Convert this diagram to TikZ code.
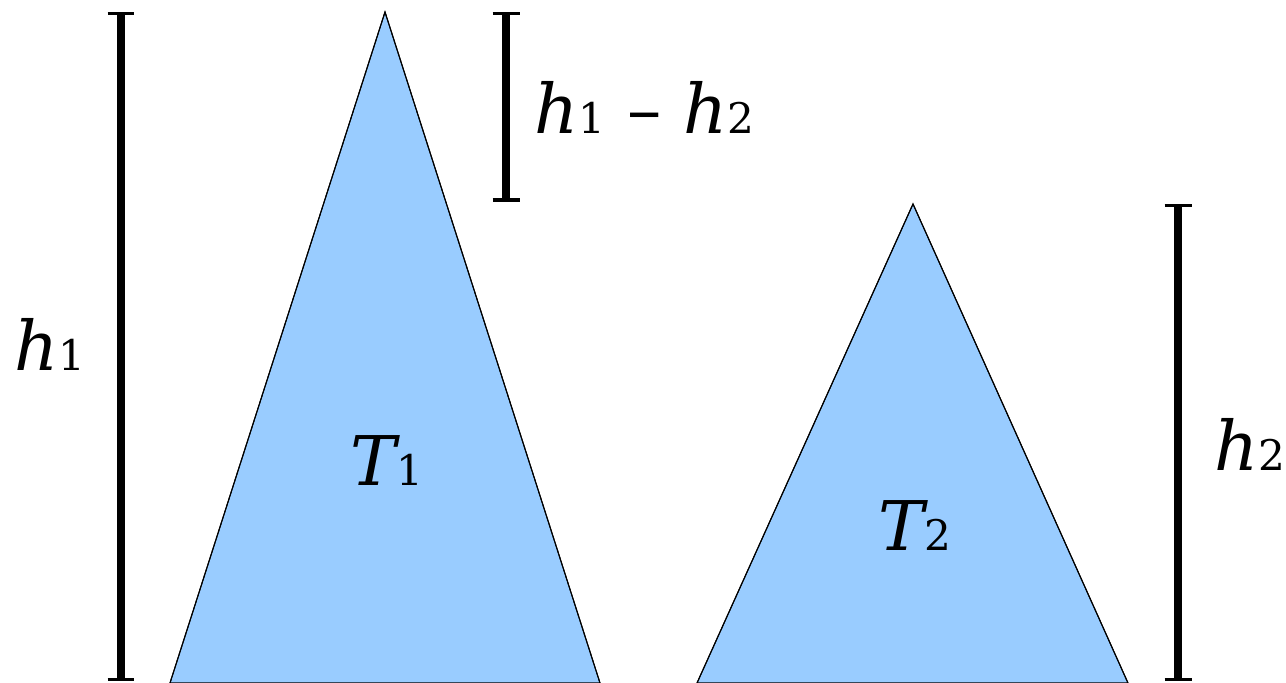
\documentclass[tikz,border=0pt]{standalone}
\usepackage{fontspec}
\newfontfamily\lblfont{DejaVu Serif}
\definecolor{treeblue}{HTML}{99CCFF}
\newcommand{\hlbl}[1]{{\itshape h}{\fontsize{24}{24}\selectfont #1}}
\newcommand{\tlbl}[1]{{\itshape T}{\fontsize{24}{24}\selectfont #1}}
\tikzset{
  tree/.style={fill=treeblue, draw=black, line width=0.6pt, line join=miter},
  dimbar/.style={line width=0.16cm},
  dimcap/.style={line width=0.07cm},
  lbl/.style={font=\lblfont\fontsize{39}{39}\selectfont, anchor=base west, inner sep=0pt}
}
\begin{document}
\begin{tikzpicture}[x=0.02cm, y=-0.02cm]
  \useasboundingbox (0,0) rectangle (1286,683);
  % eckpunkte der baeume
  \coordinate (t1top) at (385,12);
  \coordinate (t1left) at (170,683);
  \coordinate (t1right) at (600,683);
  \coordinate (t2top) at (913,204);
  \coordinate (t2left) at (697,683);
  \coordinate (t2right) at (1128,683);
  \fill[tree] (t1top) -- (t1right) -- (t1left) -- cycle;
  \fill[tree] (t2top) -- (t2right) -- (t2left) -- cycle;
  \draw[tree, fill=none] (t1left) -- (t1top) -- (t1right);
  \draw[tree, fill=none] (t2left) -- (t2top) -- (t2right);
  % hoehenmarken
  \coordinate (aTop) at (121,13.5);
  \coordinate (aBot) at (121,679.5);
  \coordinate (bTop) at (506,13.5);
  \coordinate (bBot) at (506,200);
  \coordinate (cTop) at (1178,205.5);
  \coordinate (cBot) at (1178,679.5);
  \foreach \p/\q in {aTop/aBot, bTop/bBot, cTop/cBot}{
    \draw[dimbar] (\p) -- (\q);
    \draw[dimcap] ([xshift=-0.27cm]\p) -- ([xshift=0.27cm]\p);
    \draw[dimcap] ([xshift=-0.27cm]\q) -- ([xshift=0.27cm]\q);
  }
  % beschriftungen
  \node[lbl] (hA) at (14,370) {\hlbl{1}};
  \node[lbl] (hAB) at (534,133) {\hlbl{1} – \hlbl{2}};
  \node[lbl] (hB) at (1214,470) {\hlbl{2}};
  \node[lbl] (tA) at (350,485) {\tlbl{1}};
  \node[lbl] (tB) at (878,550) {\tlbl{2}};
\end{tikzpicture}
\end{document}
